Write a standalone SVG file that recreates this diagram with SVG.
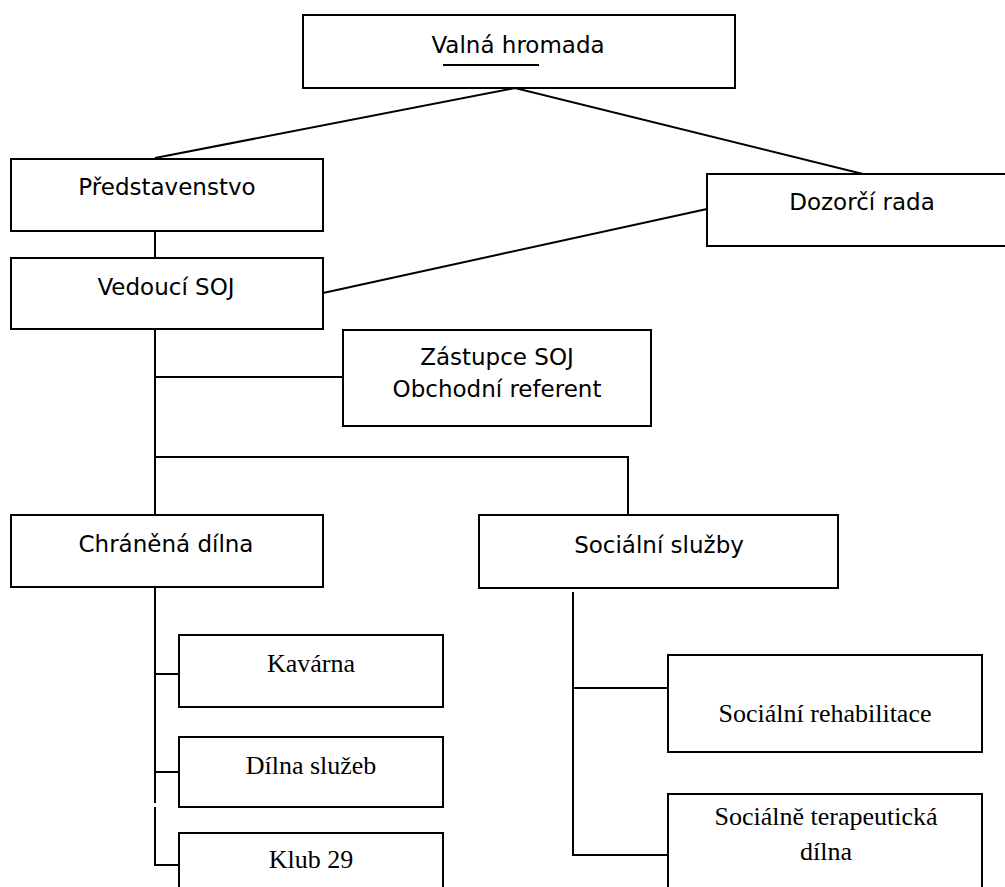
<svg xmlns="http://www.w3.org/2000/svg" width="1005" height="887" viewBox="0 0 1005 887">
<style>
.box{fill:#fff;stroke:#000;stroke-width:2}
.ln{stroke:#000;stroke-width:2;fill:none}
.s{font-family:"DejaVu Sans",sans-serif;font-size:23px;fill:#000;text-anchor:middle}
.r{font-family:"Liberation Serif",serif;font-size:26px;fill:#000;text-anchor:middle}
</style>
<rect width="1005" height="887" fill="#fff"/>
<g id="connectors">
<path class="ln" d="M155,158 L515,88 L863,174"/>
<path class="ln" d="M155,231 V258"/>
<path class="ln" d="M323,293 L707,209"/>
<path class="ln" d="M155,329 V515"/>
<path class="ln" d="M155,377 H343"/>
<path class="ln" d="M155,457 H628 V515"/>
<path class="ln" d="M155,587 V803"/>
<path class="ln" d="M155,807 V865 H179"/>
<path class="ln" d="M155,674 H179"/>
<path class="ln" d="M155,772 H179"/>
<path class="ln" d="M573,592 V855 H668"/>
<path class="ln" d="M573,688 H668"/>
</g>
<g id="valna"><rect class="box" x="303" y="15" width="432" height="73"/><text class="s" x="518" y="53">Valná hromada</text><line class="ln" x1="443" y1="65" x2="539" y2="65"/></g>
<g id="predstavenstvo"><rect class="box" x="11" y="159" width="312" height="72"/><text class="s" x="167" y="195">Představenstvo</text></g>
<g id="dozorci"><rect class="box" x="707" y="174" width="310" height="72"/><text class="s" x="862" y="210">Dozorčí rada</text></g>
<g id="vedouci"><rect class="box" x="11" y="258" width="312" height="71"/><text class="s" x="166" y="295">Vedoucí SOJ</text></g>
<g id="zastupce"><rect class="box" x="343" y="330" width="308" height="96"/><text class="s" x="497" y="365">Zástupce SOJ</text><text class="s" x="497" y="397">Obchodní referent</text></g>
<g id="chranena"><rect class="box" x="11" y="515" width="312" height="72"/><text class="s" x="166" y="552">Chráněná dílna</text></g>
<g id="socialni"><rect class="box" x="479" y="515" width="359" height="73"/><text class="s" x="659" y="553">Sociální služby</text></g>
<g id="kavarna"><rect class="box" x="179" y="635" width="264" height="72"/><text class="r" x="311" y="672">Kavárna</text></g>
<g id="dilna"><rect class="box" x="179" y="737" width="264" height="70"/><text class="r" x="311" y="774">Dílna služeb</text></g>
<g id="klub"><rect class="box" x="179" y="833" width="264" height="70"/><text class="r" x="311" y="868">Klub 29</text></g>
<g id="rehab"><rect class="box" x="668" y="655" width="314" height="97"/><text class="r" x="825" y="722">Sociální rehabilitace</text></g>
<g id="terap"><rect class="box" x="668" y="794" width="314" height="110"/><text class="r" x="826" y="825">Sociálně terapeutická</text><text class="r" x="826" y="860">dílna</text></g>
</svg>
